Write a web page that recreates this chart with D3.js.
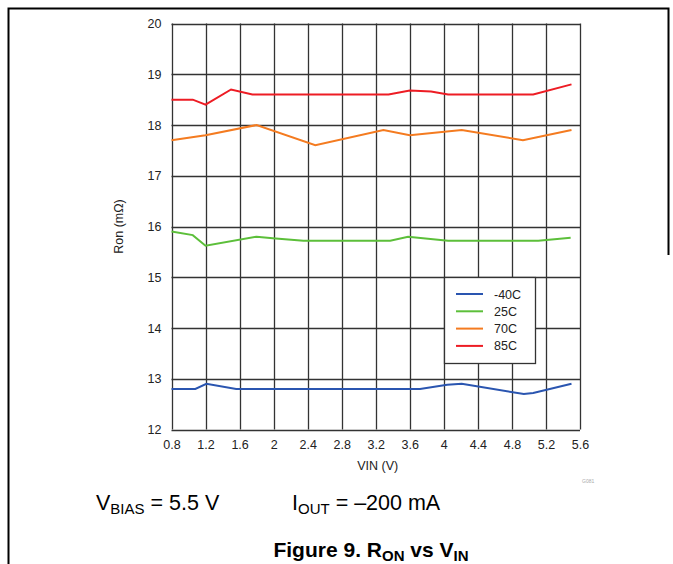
<!DOCTYPE html>
<html><head><meta charset="utf-8">
<script src="https://cdn.jsdelivr.net/npm/d3@7"></script>
<style>
body{margin:0;background:#fff;}
svg{display:block;font-family:"Liberation Sans",Arial,sans-serif;}
</style></head>
<body>
<svg id="c" width="673" height="564"></svg>
<script>
const xTicks = [0.8,1.2,1.6,2,2.4,2.8,3.2,3.6,4,4.4,4.8,5.2,5.6];
const yTicks = [12,13,14,15,16,17,18,19,20];
const seriesNames = ["-40C","25C","70C","85C"];
const seriesColors = ["#2a55b0","#5cbf3a","#f47b20","#ed1c24"];
const vin_m40 = [0.8,1.08,1.21,1.56,3.72,4.04,4.21,4.94,5.05,5.5];
const ron_m40 = [12.8,12.8,12.9,12.8,12.8,12.88,12.9,12.7,12.72,12.9];
const vin_25 = [0.8,1.05,1.2,1.8,1.99,2.35,3.37,3.58,4.05,5.11,5.49];
const ron_25 = [15.9,15.83,15.62,15.8,15.77,15.72,15.72,15.8,15.72,15.72,15.78];
const vin_70 = [0.8,1.2,1.8,2.49,3.29,3.6,4.21,4.93,5.5];
const ron_70 = [17.7,17.8,18.0,17.6,17.9,17.8,17.9,17.7,17.9];
const vin_85 = [0.8,1.05,1.2,1.5,1.75,3.35,3.6,3.85,4.05,5.05,5.5];
const ron_85 = [18.5,18.5,18.4,18.7,18.6,18.6,18.68,18.66,18.6,18.6,18.8];
const seriesX = [vin_m40,vin_25,vin_70,vin_85];
const seriesY = [ron_m40,ron_25,ron_70,ron_85];

const svg = d3.select("#c");
const L=171.5, R=580, T=23.5, B=429.5;
const x = d3.scaleLinear().domain([0.8,5.6]).range([L,R]);
const y = d3.scaleLinear().domain([12,20]).range([B,T]);

// page frame
svg.append("path").attr("d","M8.5,564 L8.5,8.5 L668.5,8.5 L668.5,255")
  .attr("fill","none").attr("stroke","#000").attr("stroke-width",2);

// grid
const g = svg.append("g");
g.selectAll(".vx").data(xTicks).join("line")
  .attr("x1",d=>Math.round(x(d))+0.5).attr("x2",d=>Math.round(x(d))+0.5)
  .attr("y1",T).attr("y2",B).attr("stroke","#333").attr("stroke-width",1.3);
g.selectAll(".hy").data(yTicks).join("line")
  .attr("y1",d=>Math.round(y(d))+0.5).attr("y2",d=>Math.round(y(d))+0.5)
  .attr("x1",L).attr("x2",R).attr("stroke","#333").attr("stroke-width",1.3);

// axes labels via d3 axes (no lines)
const xAxis = svg.append("g").attr("transform",`translate(0,${B})`)
  .call(d3.axisBottom(x).tickValues(xTicks).tickSize(0).tickPadding(11).tickFormat(d=>String(d)));
xAxis.select(".domain").remove();
xAxis.selectAll("text").attr("font-size",12.5).attr("fill","#222").attr("font-family","Liberation Sans, Arial, sans-serif");
const yAxis = svg.append("g").attr("transform",`translate(${L},0)`)
  .call(d3.axisLeft(y).tickValues(yTicks).tickSize(0).tickPadding(10).tickFormat(d3.format("d")));
yAxis.select(".domain").remove();
yAxis.selectAll("text").attr("font-size",12.5).attr("fill","#222").attr("font-family","Liberation Sans, Arial, sans-serif");

svg.append("text").attr("x",(L+R)/2+2).attr("y",470).attr("text-anchor","middle")
  .attr("font-size",12.5).attr("fill","#222").text("VIN (V)");
svg.append("text").attr("transform",`translate(123,${(T+B)/2}) rotate(-90)`).attr("text-anchor","middle")
  .attr("font-size",12.5).attr("fill","#222").text("Ron (mΩ)");

// series
const line = d3.line().x(d=>x(d[0])).y(d=>y(d[1]));
seriesNames.forEach((n,i)=>{
  const pts = seriesX[i].map((v,j)=>[v,seriesY[i][j]]);
  svg.append("path").datum(pts).attr("d",line).attr("fill","none")
    .attr("stroke",seriesColors[i]).attr("stroke-width",2);
});

// legend
const lg = svg.append("g");
lg.append("rect").attr("x",444.5).attr("y",277.5).attr("width",91).attr("height",86)
  .attr("fill","#fff").attr("stroke","#333").attr("stroke-width",1.3);
seriesNames.forEach((n,i)=>{
  const yy = 294 + i*17.3;
  lg.append("line").attr("x1",456).attr("x2",483).attr("y1",yy).attr("y2",yy)
    .attr("stroke",seriesColors[i]).attr("stroke-width",2);
  lg.append("text").attr("x",494).attr("y",yy+4.5).attr("font-size",12.5).attr("fill","#222").text(n);
});

// G081 tag
svg.append("text").attr("x",582).attr("y",483).attr("font-size",5).attr("fill","#aaa").text("G081");

// conditions
const c1 = svg.append("text").attr("x",96).attr("y",510).attr("font-size",21.5).attr("fill","#000");
c1.append("tspan").text("V");
c1.append("tspan").attr("font-size",15).attr("dy",4).text("BIAS");
c1.append("tspan").attr("dy",-4).text(" = 5.5 V");
const c2 = svg.append("text").attr("x",292).attr("y",510).attr("font-size",21.5).attr("fill","#000");
c2.append("tspan").text("I");
c2.append("tspan").attr("font-size",15).attr("dy",4).text("OUT");
c2.append("tspan").attr("dy",-4).text(" = \u2013200 mA");

// title
const t = svg.append("text").attr("x",371).attr("y",557).attr("text-anchor","middle")
  .attr("font-size",21).attr("font-weight","bold").attr("fill","#000");
t.append("tspan").text("Figure 9. R");
t.append("tspan").attr("font-size",15).attr("dy",4).text("ON");
t.append("tspan").attr("dy",-4).text(" vs V");
t.append("tspan").attr("font-size",15).attr("dy",4).text("IN");
</script>
</body></html>
